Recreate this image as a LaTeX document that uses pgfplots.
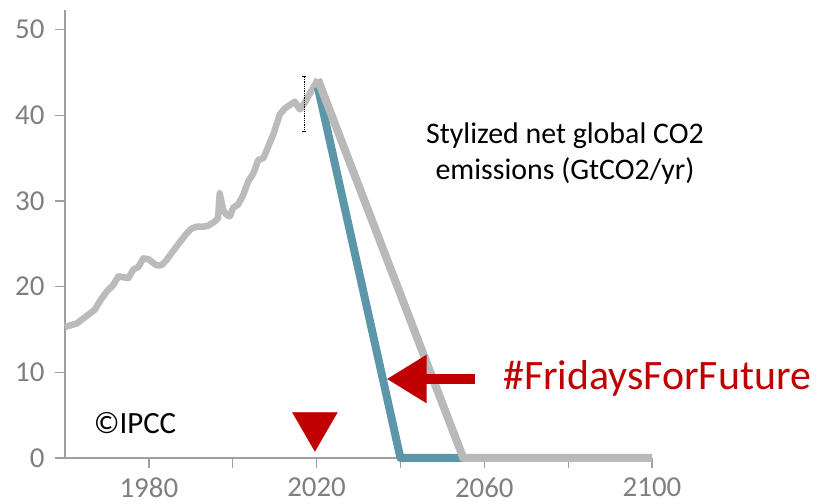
\documentclass[border=0pt]{standalone}
\usepackage{pgfplots}
\pgfplotsset{compat=1.18}
\usepackage{fontspec}
\setmainfont{Carlito}
\usetikzlibrary{arrows.meta}
\definecolor{histgray}{HTML}{BBBBBB}
\definecolor{projgray}{HTML}{B9B9B9}
\definecolor{blueline}{HTML}{5B97A8}
\definecolor{redc}{HTML}{C00000}
\definecolor{axgray}{HTML}{A0A0A0}
\definecolor{ticklab}{HTML}{7F7F7F}
\begin{document}
\begin{tikzpicture}[x=1bp,y=1bp]
\useasboundingbox (0,0) rectangle (823,504);
\begin{axis}[
  at={(65bp,46bp)}, anchor=south west,
  scale only axis, width=587bp, height=448bp,
  xmin=1960, xmax=2100, ymin=0, ymax=52.3,
  axis x line=bottom, axis y line=left,
  axis line style={axgray, line width=1.5bp, -},
  xtick={1980,2000,...,2100}, xticklabels={1980,,2020,,2060,,2100},
  ytick={0,10,...,50},
  xtick pos=bottom, ytick pos=left,
  tick align=outside,
  major tick length=10bp,
  tick style={axgray, line width=1.3bp},
  tick label style={font=\fontsize{29}{34}\selectfont, text=ticklab},
  x tick label style={yshift=-6bp},
  y tick label style={xshift=-7bp},
  /pgf/number format/assume math mode=true,
  clip=false,
]
\addplot[histgray, line width=6.5bp, line join=round] coordinates {
(1960,15.3)(1962.8,15.7)(1964.4,16.3)(1967.1,17.3)(1968.3,18.3)(1969.9,19.4)
(1971.5,20.2)(1972.7,21.2)(1975.1,21.0)(1976.3,22.0)(1977.5,22.3)(1978.7,23.3)
(1979.9,23.2)(1981.8,22.5)(1983,22.5)(1984.2,23.1)(1986.6,24.7)(1989,26.2)
(1990.2,26.8)(1991.4,27.0)(1992.9,27.0)(1994.1,27.1)(1995.7,27.6)(1996.5,28.0)
(1996.9,30.9)(1997.7,29.0)(1998.5,28.4)(1999.3,28.2)(2000.1,29.2)(2001.3,29.6)
(2002.5,30.7)(2003.7,32.3)(2004.9,33.2)(2006.1,34.8)(2007.3,35.0)(2008.5,36.4)
(2009.7,37.8)(2011.2,40.1)(2012.4,40.8)(2014.8,41.6)(2016,40.7)(2017.1,41.4)
(2020.3,44.2)};
\addplot[blueline, line width=8bp, line join=round] coordinates {
(2020.3,43.3)(2040,0)(2055,0)};
\addplot[projgray, line width=8bp, line join=round] coordinates {
(2020.3,44.2)(2055,0)(2100,0)};
\addplot[black, densely dotted, line width=0.8bp, mark=-, mark size=2bp, mark options={solid}] coordinates {
(2017,38.1)(2017,44.5)};
\addplot[only marks, mark=triangle*, mark size=26bp, mark options={rotate=180, fill=redc, draw=redc, line width=0.2bp}] coordinates {
(2019.6,3.8)};
\end{axis}
\draw[redc, line width=9.3bp, -{Triangle[length=40bp,width=46bp]}] (475,125) -- (386.7,125);
\node[anchor=base west, inner sep=0pt, text=redc, font=\fontsize{42}{50}\selectfont] at (503,114) {\#FridaysForFuture};
\node[align=center, inner sep=0pt, font=\fontsize{30}{37}\selectfont] at (565,350.5) {Stylized net global CO2\\emissions (GtCO2/yr)};
\node[inner sep=0pt, font=\fontsize{31}{37}\selectfont] at (135,81) {©IPCC};
\end{tikzpicture}
\end{document}
